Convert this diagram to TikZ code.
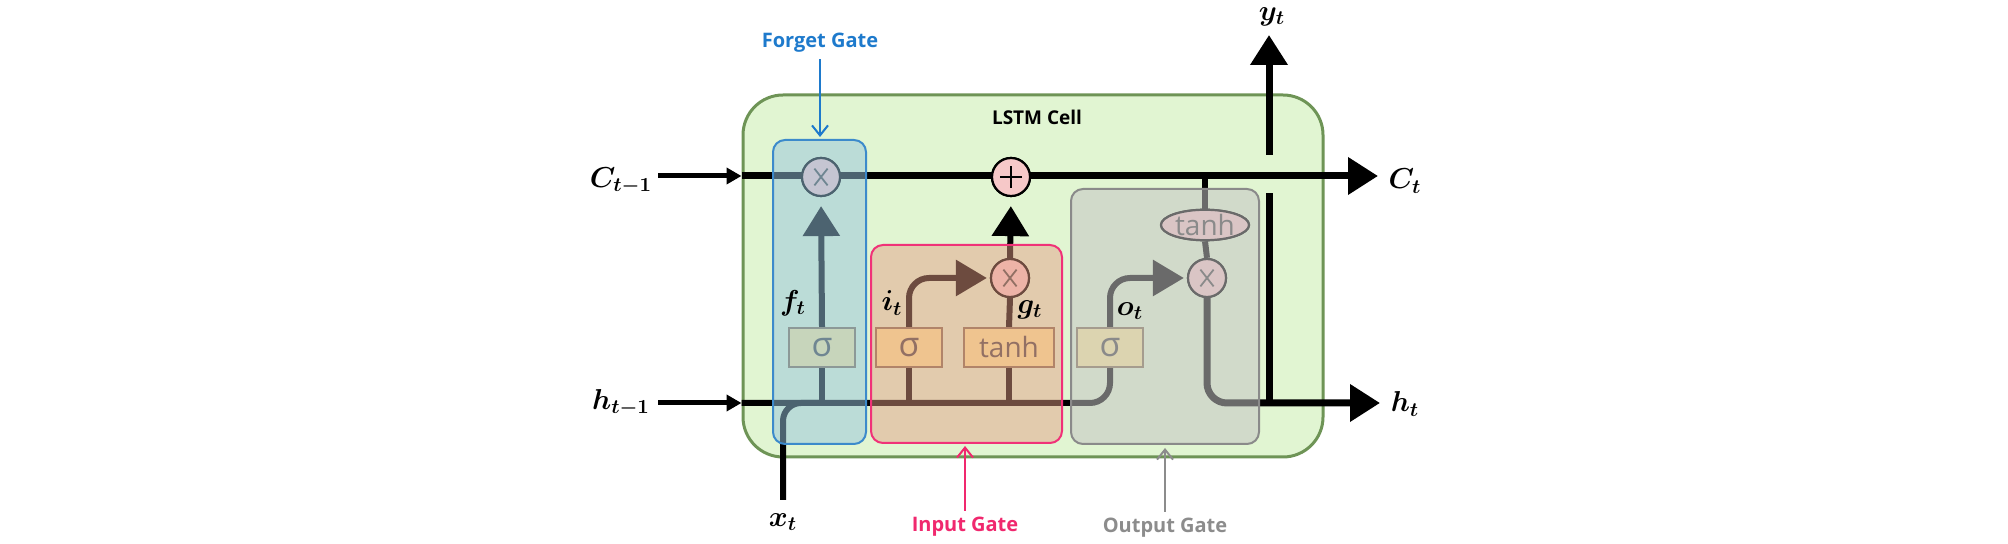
\documentclass[tikz,border=0pt]{standalone}
\usepackage{fontspec}
\usepackage{amsmath,bm}
\setsansfont{Open Sans}
\usetikzlibrary{arrows.meta,shapes.geometric}
\definecolor{cellfill}{RGB}{225,245,210}
\definecolor{celldraw}{RGB}{110,148,86}
\definecolor{fgfill}{RGB}{151,196,220}
\definecolor{fgdraw}{RGB}{60,138,203}
\definecolor{igfill}{RGB}{229,158,133}
\definecolor{igdraw}{RGB}{240,50,120}
\definecolor{ogfill}{RGB}{196,196,196}
\definecolor{ogdraw}{RGB}{138,138,138}
\definecolor{actfill}{RGB}{250,231,154}
\definecolor{actdraw}{RGB}{130,110,80}
\definecolor{opfill}{RGB}{246,200,200}
\definecolor{txtgray}{RGB}{70,70,70}
\definecolor{fglabel}{RGB}{30,122,204}
\definecolor{iglabel}{RGB}{240,40,110}
\definecolor{oglabel}{RGB}{140,140,140}
\tikzset{
  cellbox/.style={draw=celldraw, fill=cellfill, line width=1.5pt, rounded corners=20pt, inner sep=0},
  gatebox/.style={line width=1pt, rounded corners=6pt, inner sep=0, draw opacity=1},
  mainline/.style={line width=3.5pt, black},
  gline/.style={line width=3pt, black},
  inarrow/.style={line width=2.5pt, black, -{Triangle[length=7.5pt,width=8pt]}},
  bigtip/.style={-{Triangle[length=15pt,width=18pt]}},
  actbox/.style={draw=actdraw, line width=1pt, fill=actfill, inner sep=0, minimum height=19.5pt, text=txtgray},
  sigfont/.style={font=\sffamily\fontsize{17}{20}\selectfont},
  tanhfont/.style={font=\sffamily\fontsize{14}{17}\selectfont},
  crosspic/.style={path picture={\draw[line width=0.9pt, txtgray]
      ([shift={(-3.3pt,-4.2pt)}]path picture bounding box.center) -- ([shift={(3.3pt,4.2pt)}]path picture bounding box.center)
      ([shift={(-3.3pt,4.2pt)}]path picture bounding box.center) -- ([shift={(3.3pt,-4.2pt)}]path picture bounding box.center);}},
  pluspic/.style={path picture={\draw[line width=0.9pt, black]
      ([shift={(-5.5pt,0pt)}]path picture bounding box.center) -- ([shift={(5.5pt,0pt)}]path picture bounding box.center)
      ([shift={(0pt,-5.5pt)}]path picture bounding box.center) -- ([shift={(0pt,5.5pt)}]path picture bounding box.center);}},
  opcircle/.style={circle, draw=black, line width=1.1pt, fill=opfill, minimum size=19pt, inner sep=0},
  mathlbl/.style={font=\fontsize{14.5}{17}\selectfont, inner sep=0},
  gatelbl/.style={font=\sffamily\bfseries\fontsize{10}{12}\selectfont, inner sep=1pt},
}
\begin{document}
\begin{tikzpicture}[x=0.5pt,y=-0.5pt]
\useasboundingbox (0,0) rectangle (2008,544);
% cell
\node[cellbox, minimum width=290pt, minimum height=181pt] (cell) at (1033,276) {};
\node[font=\sffamily\bfseries\fontsize{9.5}{11}\selectfont] (celllbl) at (1037,117) {LSTM Cell};
% coordinates
\coordinate (cin) at (658,176);
\coordinate (cout) at (1378,176);
\coordinate (hin) at (658,403);
\coordinate (hout) at (1380,403);
\coordinate (xin) at (783,500);
\coordinate (yjoin) at (1269,193);
\coordinate (ystart) at (1269,155);
\coordinate (ytip) at (1269,35);
% operation nodes (placed first so the lines can refer to them)
\node[opcircle, crosspic] (fx) at (821,177) {};
\node[opcircle, pluspic] (plus) at (1011,177) {};
\node[opcircle, crosspic] (ix) at (1010,278) {};
\node[opcircle, crosspic] (ox) at (1207,278) {};
\node[actbox, sigfont, minimum width=33pt] (fsig) at (822,347.5) {σ};
\node[actbox, sigfont, minimum width=33pt] (isig) at (909,347.5) {σ};
\node[actbox, tanhfont, minimum width=45pt] (itanh) at (1009,347.5) {tanh};
\node[actbox, sigfont, minimum width=33pt] (osig) at (1110,347.5) {σ};
\node[ellipse, draw=black, line width=1.1pt, fill=opfill, minimum width=44pt, minimum height=14pt, inner sep=0, tanhfont, text=txtgray] (otanh) at (1205,225) {tanh};
% connectors
\draw[inarrow] (cin) -- (cin -| cell.west);
\draw[inarrow] (hin) -- (hin -| cell.west);
\draw[mainline, bigtip] (cin -| cell.west) -- (cout);
\draw[gline, rounded corners=10pt] (hin -| cell.west) -- (osig.south |- hin) -- (osig.south);
\draw[gline, rounded corners=9pt] (xin) -- (xin |- hin) -- (fsig.south |- hin);
\draw[gline] (fsig.south |- hin) -- (fsig.south);
\draw[gline, bigtip, shorten >=4.5pt] (fsig.north) -- (fx.south);
\draw[gline] (isig.south |- hin) -- (isig.south);
\draw[gline] (itanh.south |- hin) -- (itanh.south);
\draw[gline, rounded corners=10pt, -{Triangle[length=15.5pt,width=17.5pt]}, shorten >=1.5pt] (isig.north) -- (isig.north |- ix) -- (ix.west);
\draw[gline] (itanh.north) -- (ix.south);
\draw[gline, bigtip, shorten >=4.5pt] (ix.north) -- (plus.south);
\draw[gline, rounded corners=10pt, -{Triangle[length=15.5pt,width=17.5pt]}, shorten >=1.5pt] (osig.north) -- (osig.north |- ox) -- (ox.west);
\draw[gline] (otanh.north |- cin) -- (otanh.north);
\draw[gline] (otanh.south) -- (ox.north);
\draw[mainline, rounded corners=10pt, bigtip] (ox.south) -- (ox.south |- hout) -- (hout);
\draw[mainline] (ytip |- hout) -- (yjoin);
\draw[mainline, bigtip] (ystart) -- (ytip);
% redraw nodes on top of lines
\node[opcircle, crosspic] at (fx) {};
\node[opcircle, pluspic] at (plus) {};
\node[opcircle, crosspic] at (ix) {};
\node[opcircle, crosspic] at (ox) {};
\node[actbox, sigfont, minimum width=33pt] at (fsig) {σ};
\node[actbox, sigfont, minimum width=33pt] at (isig) {σ};
\node[actbox, tanhfont, minimum width=45pt] at (itanh) {tanh};
\node[actbox, sigfont, minimum width=33pt] at (osig) {σ};
\node[ellipse, draw=black, line width=1.1pt, fill=opfill, minimum width=44pt, minimum height=14pt, inner sep=0, tanhfont, text=txtgray] at (otanh) {tanh};
% gate overlays
\node[gatebox, fill=fgfill, fill opacity=0.51, draw=fgdraw, minimum width=46.5pt, minimum height=152pt] (fgate) at (819.5,292) {};
\node[gatebox, fill=igfill, fill opacity=0.48, draw=igdraw, minimum width=95.5pt, minimum height=99pt] (igate) at (966.5,344) {};
\node[gatebox, fill=ogfill, fill opacity=0.54, draw=ogdraw, minimum width=94pt, minimum height=127.5pt] (ogate) at (1165,316.5) {};
% math labels
\node[mathlbl] (lc1) at (621,181) {$\bm{C_{t-1}}$};
\node[mathlbl] (lh1) at (621,403) {$\bm{h_{t-1}}$};
\node[mathlbl] (lx) at (783,522) {$\bm{x_t}$};
\node[mathlbl] (ly) at (1272,17) {$\bm{y_t}$};
\node[mathlbl] (lc) at (1405,181) {$\bm{C_t}$};
\node[mathlbl] (lh) at (1405,404) {$\bm{h_t}$};
\node[mathlbl] (lf) at (793,303) {$\bm{f_t}$};
\node[mathlbl] (li) at (892,303) {$\bm{i_t}$};
\node[mathlbl] (lg) at (1030,310) {$\bm{g_t}$};
\node[mathlbl] (lo) at (1130,311) {$\bm{o_t}$};
% gate labels
\node[gatelbl, text=fglabel] (fgl) at (820,43) {Forget Gate};
\node[gatelbl, text=iglabel] (igl) at (965,527) {Input Gate};
\node[gatelbl, text=oglabel] (ogl) at (1165,528) {Output Gate};
\draw[fglabel, line width=1pt, -{Straight Barb[length=5pt,width=8pt]}, shorten <=2pt, shorten >=1pt] (fgl.south) -- (fgl.south |- fgate.north);
\draw[iglabel, line width=1pt, -{Straight Barb[length=5pt,width=8pt]}, shorten <=2pt, shorten >=1pt] (igl.north) -- (igl.north |- igate.south);
\draw[oglabel, line width=1pt, -{Straight Barb[length=5pt,width=8pt]}, shorten <=2pt, shorten >=1.5pt] (ogl.north) -- (ogl.north |- ogate.south);
\end{tikzpicture}
\end{document}
